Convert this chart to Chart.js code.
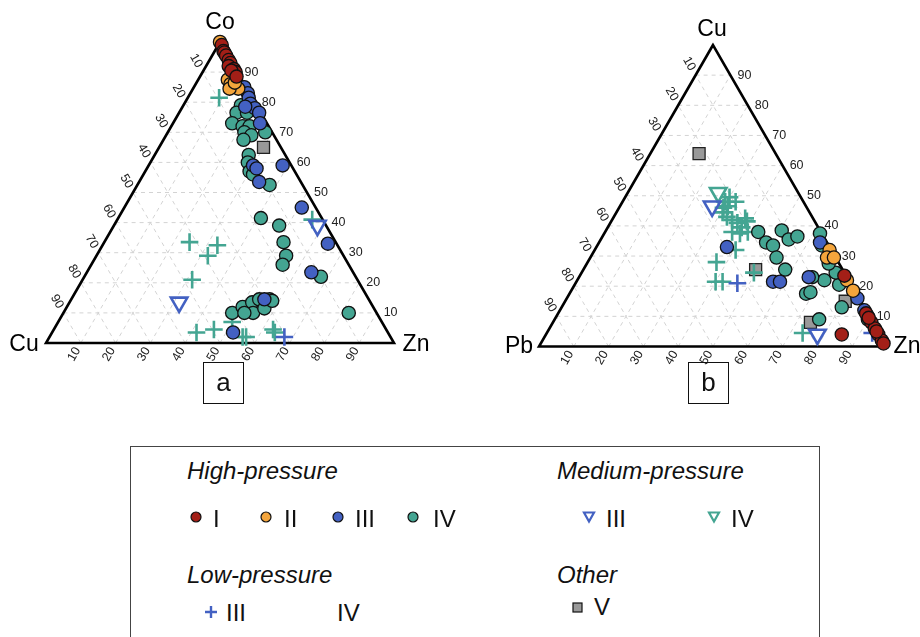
<!DOCTYPE html>
<html>
<head>
<meta charset="utf-8">
<script src="https://cdn.jsdelivr.net/npm/chart.js@4.4.1/dist/chart.umd.min.js"></script>
<style>
  html, body { margin: 0; padding: 0; background: #fff; }
  body { position: relative; width: 920px; height: 637px; overflow: hidden;
         font-family: "Liberation Sans", Arial, Helvetica, sans-serif; color: #111; }
  canvas.panel { position: absolute; top: 0; }
  #ca { left: 0; }
  #cb { left: 460px; }
  .tag { position: absolute; top: 362px; width: 41px; height: 42px; box-sizing: border-box;
         border: 1.5px solid #111; font-size: 26px; line-height: 38px; text-align: center; }
  .legend { position: absolute; left: 130px; top: 446px; width: 690px; height: 230px;
            box-sizing: border-box; border: 1.5px solid #444; }
  .t { position: absolute; white-space: nowrap; transform: translateY(-50%); line-height: 1; }
  .head { font-style: italic; font-size: 24px; }
  .num { font-size: 24px; }
  svg.m { position: absolute; overflow: visible; }
</style>
</head>
<body>
<canvas id="ca" class="panel" width="460" height="400"></canvas>
<canvas id="cb" class="panel" width="460" height="400"></canvas>
<div class="tag" style="left:203px">a</div>
<div class="tag" style="left:688px">b</div>

<div class="legend"></div>
<span class="t head" style="left:187px;top:471px">High-pressure</span>
<span class="t head" style="left:557px;top:471px">Medium-pressure</span>
<span class="t head" style="left:187px;top:575px">Low-pressure</span>
<span class="t head" style="left:557px;top:575px">Other</span>

<svg class="m" style="left:190px;top:511px" width="12" height="12"><circle cx="6" cy="6" r="5" fill="#a31f17" stroke="#111" stroke-width="1.2"/></svg>
<span class="t num" style="left:213px;top:519px">I</span>
<svg class="m" style="left:260px;top:511px" width="12" height="12"><circle cx="6" cy="6" r="5" fill="#f4a53c" stroke="#111" stroke-width="1.2"/></svg>
<span class="t num" style="left:284px;top:519px">II</span>
<svg class="m" style="left:332px;top:511px" width="12" height="12"><circle cx="6" cy="6" r="5" fill="#4361c2" stroke="#111" stroke-width="1.2"/></svg>
<span class="t num" style="left:355px;top:519px">III</span>
<svg class="m" style="left:407px;top:511px" width="12" height="12"><circle cx="6" cy="6" r="5" fill="#44a592" stroke="#111" stroke-width="1.2"/></svg>
<span class="t num" style="left:433px;top:519px">IV</span>

<svg class="m" style="left:583px;top:511px" width="12" height="12"><polygon points="1,1.5 11,1.5 6,10.5" fill="none" stroke="#4361c2" stroke-width="2.2"/></svg>
<span class="t num" style="left:606px;top:519px">III</span>
<svg class="m" style="left:708px;top:511px" width="12" height="12"><polygon points="1,1.5 11,1.5 6,10.5" fill="none" stroke="#44a592" stroke-width="2.2"/></svg>
<span class="t num" style="left:731px;top:519px">IV</span>

<svg class="m" style="left:205px;top:606px" width="12" height="12"><path d="M6 0 V12 M0 6 H12" stroke="#4361c2" stroke-width="2.4"/></svg>
<span class="t num" style="left:226px;top:613px">III</span>
<span class="t num" style="left:337px;top:613px">IV</span>
<svg class="m" style="left:572px;top:602px" width="11" height="11"><rect x="1" y="1" width="9" height="9" fill="#999" stroke="#111" stroke-width="1.2"/></svg>
<span class="t num" style="left:594px;top:607px">V</span>

<script>
// ---- Panel a: Co–Cu–Zn, each row is [Co, Cu, Zn] (%) ----
const aHighI = [[99,0,1],[97,0.5,2.5],[96.5,0.5,3],[95.5,0.5,4],[94,0.5,5.5],[93,0.5,6.5],
  [92,1.5,6.5],[91,0.5,8.5],[90,0.5,9.5],[90.5,1.5,8],[88.5,1,10.5]];
const aHighII = [[100,0,0],[87.5,4,8.5],[86,4,10],[84.5,2.5,13],[84.5,5,10.5],[86.5,2.5,11]];
const aHighIII = [[85,0.5,14.5],[83,0.5,16.5],[81.5,1,17.5],[79.5,1.5,19],[78,1,21],[76.5,0.5,23],
  [73,2,25],[78.5,3.5,18],[59,2.5,38.5],[59,11,30],[58,10.5,31.5],[53.5,12,34.5],[45,4,51],
  [33,2.5,64.5],[23.5,12,64.5],[14.5,30,55.5],[3.5,44.5,52]];
const aHighIV = [[79,4.5,16.5],[76.5,7,16.5],[76.5,4,19.5],[73,10,17],[72,7.5,20.5],[72,5.5,22.5],
  [70,8,22],[69,6.5,24.5],[70,2,28],[67.5,9.5,23],[62.5,10.5,27],[60,12,28],[57,13,30],
  [56,12.5,31.5],[52.5,9.5,38],[41.5,17.5,41],[39,13.5,47.5],[33.5,15,51.5],[29,16.5,54.5],
  [26,19,55],[22,10,68],[10,8,82],[10,41.5,48.5],[12,37.5,50.5],[13.5,34,52.5],[14.5,31.5,54],
  [14.5,28.5,57],[10,35.5,54.5],[11.5,31.5,57],[10,38,52],[14,28,58]];
const aMedIII = [[39,2.5,58.5],[13.5,55,31.5]];
const aMedIV = [];
const aLowIII = [[2,30.5,67.5]];
const aLowIV = [[81.5,9.5,9],[33.5,42,24.5],[32.5,34.5,33],[29,39,32],[21,47.5,31.5],[3.5,55,41.5],
  [4.5,49.5,46],[2,42.5,55.5],[2,41.5,56.5],[4.5,32.5,63],[3.5,32.5,64],[41,3,56],[7,43,50]];
const aOtherV = [[65,5,30]];

// ---- Panel b: Cu–Pb–Zn, each row is [Cu, Pb, Zn] (%) ----
const bHighI = [[23.5,0.5,76],[11,0.5,88.5],[8,0.5,91.5],[6,0.5,93.5],[4,0.5,95.5],[2,0.5,97.5],
  [4,11,85],[9.5,0.5,90],[5,0.5,94.5],[1,0.5,98.5]];
const bHighII = [[32,0.5,67.5],[29.5,2.5,68],[29.5,0.5,70],[22,0.5,77.5],[18.5,0.5,81]];
const bHighIII = [[33,29.5,37.5],[21.5,22,56.5],[21.5,20,58.5],[34.5,2,63.5],[23,11,66],
  [16,0.5,83.5],[12,0.5,87.5],[10,0.5,89.5]];
const bHighIV = [[38,18,44],[34.5,17.5,48],[33.5,16,50.5],[29.5,17,53.5],[38.5,11,50.5],
  [35.5,10.5,54],[36.5,7.5,56],[25.5,16.5,58],[17.5,14.5,68],[37.5,0.5,62],[22,7,71],[18,13,69],
  [20.5,3.5,76],[24.5,2.5,73],[13,6.5,80.5],[9,15,76],[9,1,90],[33.5,2,64.5],[27.5,3,69.5],[23,10,67]];
const bMedIII = [[46.5,27,26.5],[4,18,78]];
const bMedIV = [[51,23,26]];
const bLowIII = [[21,32.5,46.5],[4.5,2,93.5]];
const bLowIV = [[49.5,20.5,30],[48,19.5,32.5],[48,22.5,29.5],[46,24,30],[44.5,25,30.5],[43,24.5,32.5],
  [42,23.5,34.5],[41,22.5,36.5],[39.5,22,38.5],[41.5,19.5,39],[38,21,41],[37.5,23.5,39],
  [38,25.5,36.5],[32,27.5,40.5],[28,35,37],[21.5,38.5,40],[21.5,36.5,42],[24.5,26,49.5],
  [4.5,22,73.5],[46.5,22.5,31],[42.5,19.5,38]];
const bOtherV = [[64,22,14],[25.5,25,49.5],[15,4.5,80.5],[8,18,74]];

const TICKS = [10, 20, 30, 40, 50, 60, 70, 80, 90];

const RED = '#a31f17', ORANGE = '#f4a53c', BLUE = '#4361c2', TEAL = '#44a592', GREY = '#999999';
const H = Math.sqrt(3) / 2;

// [top, left, right] composition -> cartesian point inside a unit-100 equilateral triangle
function toXY(rows) {
  return rows.map(([t, l, r]) => {
    const s = t + l + r;
    return { x: (r + t / 2) / s * 100, y: t / s * 100 * H };
  });
}

function circles(data, color, order) {
  return { data: toXY(data), pointStyle: 'circle', pointRadius: 6.6, pointHoverRadius: 6.6,
    pointBackgroundColor: color, pointBorderColor: '#111', pointBorderWidth: 1.3, order };
}

function seriesSet(s) {
  return [
    { data: toXY(s.other), pointStyle: 'rect', pointRadius: 8.5, pointHoverRadius: 8.5,
      pointBackgroundColor: GREY, pointBorderColor: '#222', pointBorderWidth: 1.3, order: 9 },
    { data: toXY(s.lowIV), pointStyle: 'cross', pointRadius: 8.8, pointHoverRadius: 8.8,
      pointBorderColor: TEAL, pointBorderWidth: 2.6, order: 8 },
    { data: toXY(s.lowIII), pointStyle: 'cross', pointRadius: 8.8, pointHoverRadius: 8.8,
      pointBorderColor: BLUE, pointBorderWidth: 2.6, order: 7 },
    { data: toXY(s.medIV), pointStyle: 'triangle', pointRotation: 180, pointRadius: 9.5, pointHoverRadius: 9.5,
      pointBackgroundColor: 'rgba(255,255,255,0)', pointBorderColor: TEAL, pointBorderWidth: 2.6, order: 6 },
    { data: toXY(s.medIII), pointStyle: 'triangle', pointRotation: 180, pointRadius: 9.5, pointHoverRadius: 9.5,
      pointBackgroundColor: 'rgba(255,255,255,0)', pointBorderColor: BLUE, pointBorderWidth: 2.6, order: 5 },
    circles(s.highIV, TEAL, 4),
    circles(s.highIII, BLUE, 3),
    circles(s.highII, ORANGE, 2),
    circles(s.highI, RED, 1)
  ].map(d => Object.assign(d, { showLine: false, clip: false }));
}

// Triangle outline, dashed 10 % grid, tick labels and apex names
function framePlugin(names) {
  return {
    id: 'ternaryFrame',
    beforeDatasetsDraw(chart) {
      const ctx = chart.ctx, sx = chart.scales.x, sy = chart.scales.y;
      const P = (t, r) => [sx.getPixelForValue(r + t / 2), sy.getPixelForValue(t * H)];
      const top = P(100, 0), left = P(0, 0), right = P(0, 100);
      const unit = (a, b) => { const dx = b[0] - a[0], dy = b[1] - a[1], n = Math.hypot(dx, dy); return [dx / n, dy / n]; };
      ctx.save();
      ctx.strokeStyle = '#d3d3d3';
      ctx.lineWidth = 1;
      ctx.setLineDash([4, 4]);
      ctx.beginPath();
      const seg = (a, b) => { ctx.moveTo(a[0], a[1]); ctx.lineTo(b[0], b[1]); };
      for (const k of TICKS) {
        seg(P(k, 0), P(k, 100 - k));
        seg(P(0, k), P(100 - k, k));
        seg(P(0, 100 - k), P(100 - k, 0));
      }
      ctx.stroke();
      ctx.setLineDash([]);

      ctx.strokeStyle = '#000';
      ctx.lineWidth = 2.6;
      ctx.lineJoin = 'miter';
      ctx.beginPath();
      ctx.moveTo(top[0], top[1]);
      ctx.lineTo(left[0], left[1]);
      ctx.lineTo(right[0], right[1]);
      ctx.closePath();
      ctx.stroke();

      ctx.fillStyle = '#222';
      ctx.font = '12.5px "Liberation Sans", Arial, sans-serif';
      ctx.textAlign = 'center';
      ctx.textBaseline = 'middle';
      const label = (txt, p, dir, d, rot) => {
        ctx.save();
        ctx.translate(p[0] + dir[0] * d, p[1] + dir[1] * d);
        ctx.rotate(rot);
        ctx.fillText(txt, 0, 0);
        ctx.restore();
      };
      const dL = unit(right, top), dB = unit(top, left);
      TICKS.forEach(v => {
        label(String(v), P(100 - v, 0), dL, 13, Math.PI / 3);
        label(String(v), P(0, v), dB, 13, -Math.PI / 3);
        label(String(v), P(v, 100 - v), [1, 0], 14, 0);
      });

      ctx.fillStyle = '#000';
      ctx.font = '23px "Liberation Sans", Arial, sans-serif';
      const verts = [top, left, right];
      names.forEach((n, i) => ctx.fillText(n.text, verts[i][0] + n.dx, verts[i][1] + n.dy));
      ctx.restore();
    }
  };
}

function ternaryChart(id, pad, series, names) {
  return new Chart(document.getElementById(id), {
    type: 'scatter',
    data: { datasets: seriesSet(series) },
    options: {
      responsive: false,
      animation: false,
      events: [],
      layout: { padding: pad },
      scales: {
        x: { type: 'linear', min: 0, max: 100, display: false },
        y: { type: 'linear', min: 0, max: 100 * H, display: false }
      },
      plugins: { legend: { display: false }, tooltip: { enabled: false }, title: { display: false } }
    },
    plugins: [framePlugin(names)]
  });
}

ternaryChart('ca', { left: 46, right: 66, top: 42, bottom: 57 },
  { highI: aHighI, highII: aHighII, highIII: aHighIII, highIV: aHighIV,
    medIII: aMedIII, medIV: aMedIV, lowIII: aLowIII, lowIV: aLowIV, other: aOtherV },
  [{ text: 'Co', dx: 0, dy: -19 }, { text: 'Cu', dx: -22, dy: 2 }, { text: 'Zn', dx: 22, dy: 2 }]);

ternaryChart('cb', { left: 79, right: 33, top: 45, bottom: 53.5 },
  { highI: bHighI, highII: bHighII, highIII: bHighIII, highIV: bHighIV,
    medIII: bMedIII, medIV: bMedIV, lowIII: bLowIII, lowIV: bLowIV, other: bOtherV },
  [{ text: 'Cu', dx: -1, dy: -15 }, { text: 'Pb', dx: -20, dy: 0 }, { text: 'Zn', dx: 20, dy: 0 }]);
</script>
</body>
</html>
